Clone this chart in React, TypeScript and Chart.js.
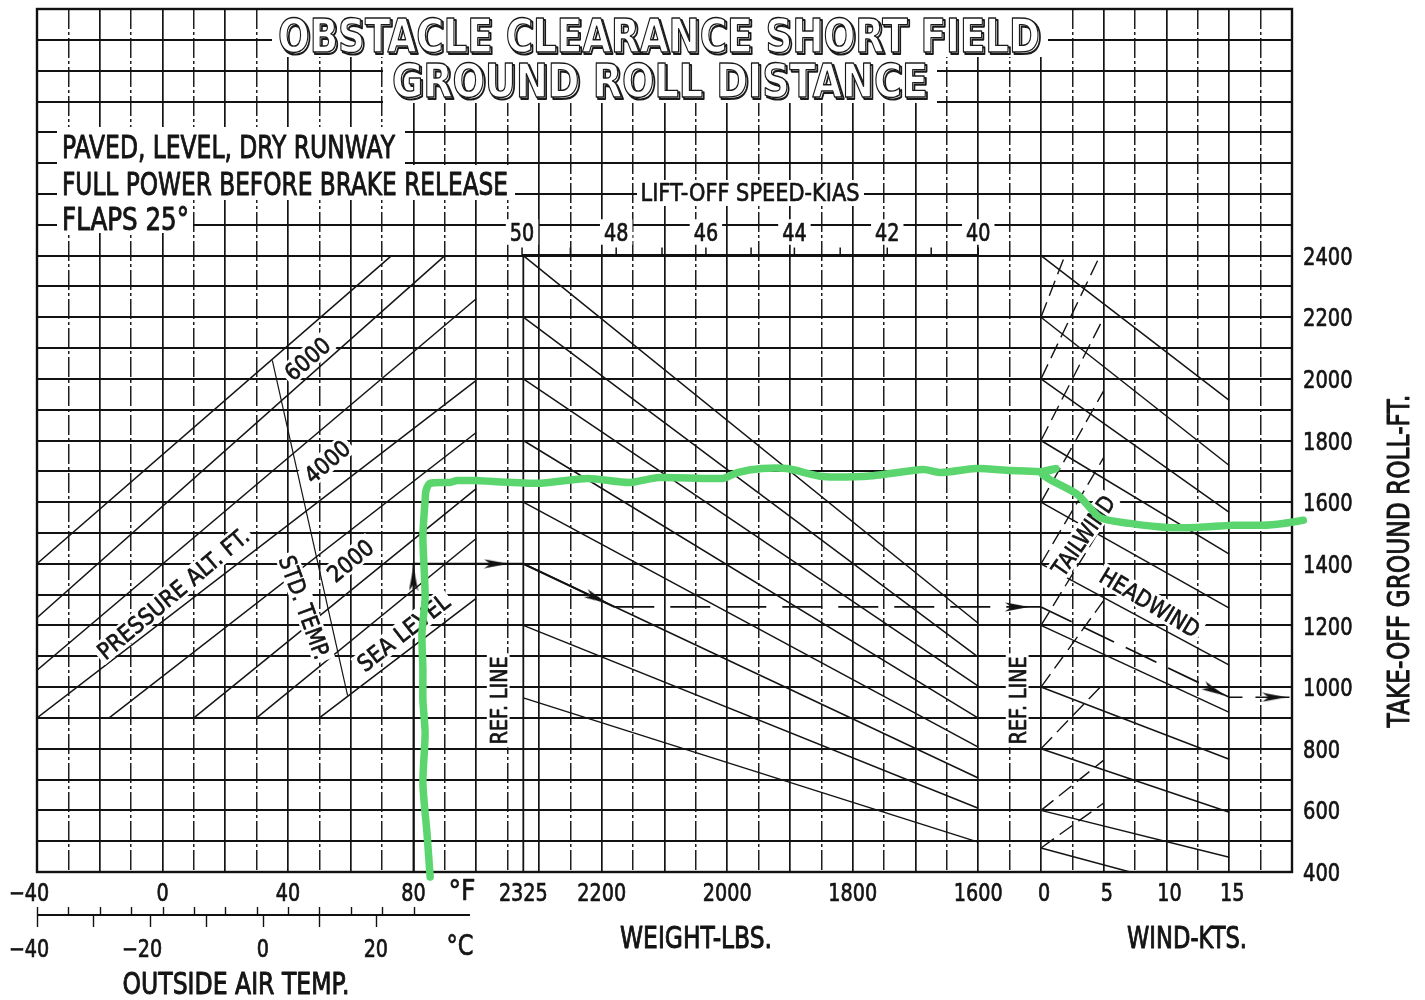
import React, { useEffect, useRef } from 'react';
import { Chart, registerables } from 'chart.js';

Chart.register(...registerables);

// ---------------- grid values ----------------
const tempGridF = [-30, -20, -10, 0, 10, 20, 30, 40, 50, 60, 70, 80, 90, 100];
const weightGridLbs = [2350, 2300, 2250, 2200, 2150, 2100, 2050, 2000, 1950, 1900, 1850, 1800, 1750, 1700, 1650, 1600, 1550];
const windGridKts = [0, 2.5, 5, 7.5, 10, 12.5, 15, 17.5];
const rollGridFt = [500, 600, 700, 800, 900, 1000, 1100, 1200, 1300, 1400, 1500, 1600, 1700, 1800, 1900, 2000,
  2100, 2200, 2300, 2400, 2500, 2600, 2700, 2800, 2900, 3000, 3100];

// ---------------- tick labels ----------------
const tempLabelsF = [-40, 0, 40, 80];
const fahrenheitTicks = [-40, -30, -20, -10, 0, 10, 20, 30, 40, 50, 60, 70, 80];
const celsiusTicks = [-40, -30, -20, -10, 0, 10, 20];
const celsiusLabels = [-40, -20, 0, 20];
const weightLabelsLbs = [2325, 2200, 2000, 1800, 1600];
const windLabelsKts = [0, 5, 10, 15];
const rollLabelsFt = [400, 600, 800, 1000, 1200, 1400, 1600, 1800, 2000, 2200, 2400];
const liftoffSpeedsKias = [50, 49, 48, 47, 46, 45, 44, 43, 42, 41, 40];
const liftoffWeightsLbs = [2327, 2250, 2177, 2104, 2034, 1962, 1893, 1820, 1745, 1675, 1600];

// ---------------- pressure altitude lines (temperature panel) ----------------
const altitudeNames = ['7000', '6000', '5000', '4000', '3000', '2000', '1000', 'SL'];
const altitudeStartF = [-40, -40, -40, -40, -17, 10, 30, 50];
const altitudeStartFt = [1400, 1225, 1055, 900, 900, 900, 900, 900];
const altitudeEndF = [73, 90, 100, 100, 100, 100, 100, 100];
const altitudeEndFt = [2400, 2400, 2260, 1995, 1826, 1644, 1482, 1288];
const stdTempF = [35, 59];
const stdTempFt = [2060, 972];

// ---------------- weight guide lines ----------------
const weightRefLbs = 2325;
const weightEndLbs = 1600;
const weightStartFt = [2400, 2200, 2000, 1800, 1600, 1400, 1200, 965];
const weightEndFt = [1207, 1097, 1003, 899, 805, 705, 607, 497];

// ---------------- wind guide lines ----------------
const headwindStartFt = [2400, 2200, 2000, 1800, 1600, 1400, 1200, 1000, 800, 600, 478];
const headwindEndKts = [15, 15, 15, 15, 15, 15, 15, 15, 15, 15, 7.1];
const headwindEndFt = [1930, 1719, 1567, 1431, 1256, 1071, 918, 766, 594, 448, 400];
const tailwindStartFt = [2200, 2000, 1800, 1600, 1400, 1200, 1000, 800, 600, 478];
const tailwindEndKts = [1.9, 4.7, 5, 5, 5, 5, 5, 5, 5, 5];
const tailwindEndFt = [2400, 2400, 2199, 1962, 1745, 1531, 1281, 1012, 763, 624];

// ---------------- example path ----------------
const exampleTempF = [80, 80, 100];
const exampleTempFt = [400, 1400, 1400];
const exampleWeightLbs = [2400, 2325, 2180];
const exampleWeightFt = [1400, 1400, 1260];
const exampleWeightDashLbs = [2180, 1500];
const exampleWeightDashFt = [1260, 1260];
const exampleWindKts = [0, 15, 20];
const exampleWindFt = [1260, 967, 967];
const arrowTempF = [80];
const arrowTempFt = [1352];
const arrowWeightLbs = [2368, 2208, 1538];
const arrowWeightFt = [1400, 1288, 1260];
const arrowWindKts = [13.8, 18.6];
const arrowWindFt = [989, 967];

// ---------------- green hand-drawn line ----------------
const greenTempF = [85.3, 84.3, 83.0, 83.7, 83.0, 83.0, 82.7, 83.7, 83.0, 83.7, 84.0, 85.3, 91.6, 93.9, 100];
const greenTempFt = [384, 526, 688, 850, 957, 1055, 1175, 1291, 1486, 1606, 1638, 1661, 1664, 1670, 1670];
const greenWeightLbs = [2400, 2303, 2223, 2155, 2109, 2007, 1984, 1945, 1905, 1847, 1768, 1688, 1659, 1604, 1549, 1500];
const greenWeightFt = [1670, 1661, 1677, 1664, 1680, 1677, 1696, 1709, 1709, 1683, 1686, 1706, 1696, 1709, 1703, 1699];
const greenWindKts = [0, 1.2, 0.1, 2.9, 4.7, 7.1, 10.0, 12.4, 15.3, 17.7, 19.3, 20.9];
const greenWindFt = [1699, 1709, 1690, 1625, 1550, 1531, 1518, 1518, 1525, 1525, 1531, 1541];

// ---------------- drawing helpers ----------------
const FONT = '"DejaVu Sans", "Liberation Sans", sans-serif';
const INK = '#141414';

function txt(ctx: any, text: string, x: number, y: number, o: any = {}) {
  const size = o.size ?? 24;
  const angle = ((o.angle ?? 0) * Math.PI) / 180;
  ctx.save();
  ctx.translate(x, y);
  ctx.rotate(angle);
  ctx.font = `${o.bold ? 'bold ' : ''}${size}px ${FONT}`;
  ctx.textAlign = 'left';
  ctx.textBaseline = 'alphabetic';
  const w = ctx.measureText(text).width;
  const sx = o.width ? o.width / w : o.sx ?? 0.8;
  const tw = w * sx;
  const cap = size * 0.73;
  const x0 = o.align === 'left' ? 0 : o.align === 'right' ? -tw : -tw / 2;
  if (o.bg) {
    const p = o.pad ?? 3;
    ctx.fillStyle = '#fff';
    ctx.fillRect(x0 - p, -cap / 2 - p, tw + 2 * p, cap + 2 * p);
  }
  ctx.scale(sx, 1);
  ctx.fillStyle = o.color ?? INK;
  ctx.fillText(text, x0 / sx, cap / 2);
  ctx.strokeStyle = o.color ?? INK;
  ctx.lineWidth = o.stroke ?? 0.7;
  ctx.lineJoin = 'round';
  ctx.strokeText(text, x0 / sx, cap / 2);
  ctx.restore();
}

function numLabel(ctx: any, v: number, x: number, y: number, size = 24) {
  const s = v < 0 ? '\u2212' + Math.abs(v) : String(v);
  let shift = 0;
  if (v < 0) {
    ctx.save();
    ctx.font = `${size}px ${FONT}`;
    shift = (ctx.measureText('\u2212').width * 0.8) / 2;
    ctx.restore();
  }
  txt(ctx, s, x - shift, y, { size, sx: 0.8 });
}

function outlined(ctx: any, text: string, cx: number, baseline: number, width: number, size: number) {
  ctx.save();
  ctx.font = `bold ${size}px ${FONT}`;
  ctx.textAlign = 'left';
  ctx.textBaseline = 'alphabetic';
  const w = ctx.measureText(text).width;
  const sx = width / w;
  ctx.translate(cx - width / 2, baseline);
  ctx.scale(sx, 1);
  ctx.lineJoin = 'round';
  ctx.strokeStyle = '#1a1a1a';
  ctx.lineWidth = 2.2;
  ctx.strokeText(text, 1.8 / sx, 1.8);
  ctx.fillStyle = '#fff';
  ctx.fillText(text, 0, 0);
  ctx.lineWidth = 1.4;
  ctx.strokeText(text, 0, 0);
  ctx.restore();
}

function makeArrow() {
  const c = document.createElement('canvas');
  c.width = 10;
  c.height = 24;
  const g = c.getContext('2d')!;
  g.fillStyle = '#111';
  g.beginPath();
  g.moveTo(5, 0);
  g.lineTo(9.5, 24);
  g.lineTo(5, 18);
  g.lineTo(0.5, 24);
  g.closePath();
  g.fill();
  return c;
}

const HEADER_BOXES = [
  [272, 9, 1048, 57],
  [383, 57, 937, 103],
  [57, 127, 405, 165],
  [57, 165, 515, 200],
  [57, 200, 193, 233],
  [637, 180, 864, 206],
];

const LINE_LABELS = [
  { t: '6000', s: 'xT', x: 46.1, y: 2066, a: -41, w: 52 },
  { t: '4000', s: 'xT', x: 52.4, y: 1732, a: -41, w: 52 },
  { t: '2000', s: 'xT', x: 59.8, y: 1411, a: -40, w: 52 },
  { t: 'SEA LEVEL', s: 'xT', x: 76.7, y: 1178, a: -38, w: 110 },
  { t: 'PRESSURE ALT. FT.', s: 'xT', x: 3.3, y: 1304, a: -40, w: 190 },
  { t: 'STD. TEMP.', s: 'xT', x: 45.4, y: 1259, a: 70, w: 108 },
  { t: 'REF. LINE', s: 'xW', x: 2365, y: 957, a: -90, w: 88 },
  { t: 'REF. LINE', s: 'xK', x: -1.9, y: 957, a: -90, w: 88 },
  { t: 'TAILWIND', s: 'xK', x: 3.35, y: 1492, a: -55, w: 92 },
  { t: 'HEADWIND', s: 'xK', x: 8.7, y: 1275, a: 31, w: 112 },
];

const decoPlugin = {
  id: 'deco',
  beforeDraw(chart: any) {
    chart.$lbl = false;
  },
  beforeDatasetsDraw(chart: any) {
    const { ctx, chartArea: ca } = chart;
    const xW = chart.scales.xW;
    ctx.save();
    ctx.fillStyle = '#fff';
    for (const [x1, y1, x2, y2] of HEADER_BOXES) ctx.fillRect(x1, y1, x2 - x1, y2 - y1);
    outlined(ctx, 'OBSTACLE CLEARANCE SHORT FIELD', 659, 52, 762, 47);
    outlined(ctx, 'GROUND ROLL DISTANCE', 660, 97, 536, 47);
    txt(ctx, 'PAVED, LEVEL, DRY RUNWAY', 62, 146, { size: 32, width: 333, align: 'left', stroke: 1 });
    txt(ctx, 'FULL POWER BEFORE BRAKE RELEASE', 62, 183, { size: 32, width: 446, align: 'left', stroke: 1 });
    txt(ctx, 'FLAPS 25\u00B0', 62, 218, { size: 32, width: 127, align: 'left', stroke: 1 });
    txt(ctx, 'LIFT-OFF SPEED-KIAS', 750, 192, { size: 25, width: 219 });
    liftoffSpeedsKias.forEach((s, i) => {
      if (s % 2 === 0) {
        txt(ctx, String(s), xW.getPixelForValue(liftoffWeightsLbs[i]), 232, { size: 24, sx: 0.8, bg: true, pad: 4 });
      }
    });
    ctx.lineWidth = 2.4;
    ctx.strokeStyle = '#111';
    ctx.strokeRect(ca.left, ca.top, ca.right - ca.left, ca.bottom - ca.top);
    ctx.restore();
  },
  beforeDatasetDraw(chart: any, args: any) {
    const ds = chart.data.datasets[args.index];
    if (chart.$lbl || !ds.isGreen) return;
    chart.$lbl = true;
    const { ctx } = chart;
    const y = chart.scales.y;
    for (const l of LINE_LABELS) {
      const px = chart.scales[l.s].getPixelForValue(l.x);
      const py = y.getPixelForValue(l.y);
      txt(ctx, l.t, px, py, { size: 23, width: l.w, angle: l.a, bg: true, pad: 3 });
    }
  },
  afterDraw(chart: any) {
    const { ctx, chartArea: ca } = chart;
    const xT = chart.scales.xT;
    const xW = chart.scales.xW;
    const xK = chart.scales.xK;
    const y = chart.scales.y;
    const row1 = ca.bottom + 20;
    tempLabelsF.forEach((v) => numLabel(ctx, v, xT.getPixelForValue(v), row1));
    txt(ctx, '\u00B0F', 462, row1 - 2, { size: 28, width: 27 });
    weightLabelsLbs.forEach((v) => numLabel(ctx, v, xW.getPixelForValue(v), row1));
    windLabelsKts.forEach((v) => numLabel(ctx, v, xK.getPixelForValue(v) + 3, row1));
    const yb = ca.bottom + 43;
    ctx.save();
    ctx.strokeStyle = '#111';
    ctx.lineWidth = 1.8;
    ctx.beginPath();
    ctx.moveTo(xT.getPixelForValue(-40), yb);
    ctx.lineTo(xT.getPixelForValue(98), yb);
    ctx.stroke();
    ctx.lineWidth = 1.4;
    fahrenheitTicks.forEach((f) => {
      const px = Math.round(xT.getPixelForValue(f)) + 0.5;
      ctx.beginPath();
      ctx.moveTo(px, yb - 8);
      ctx.lineTo(px, yb);
      ctx.stroke();
    });
    celsiusTicks.forEach((c) => {
      const px = Math.round(xT.getPixelForValue(c * 1.8 + 32)) + 0.5;
      ctx.beginPath();
      ctx.moveTo(px, yb);
      ctx.lineTo(px, yb + 12);
      ctx.stroke();
    });
    ctx.restore();
    celsiusLabels.forEach((c) => numLabel(ctx, c, xT.getPixelForValue(c * 1.8 + 32), ca.bottom + 76));
    txt(ctx, '\u00B0C', 460, ca.bottom + 73, { size: 28, width: 27 });
    txt(ctx, 'OUTSIDE AIR TEMP.', 236, ca.bottom + 111, { size: 30, width: 227, stroke: 1 });
    txt(ctx, 'WEIGHT-LBS.', 696, ca.bottom + 65, { size: 30, width: 152, stroke: 1 });
    txt(ctx, 'WIND-KTS.', 1187, ca.bottom + 65, { size: 30, width: 120, stroke: 1 });
    rollLabelsFt.forEach((v) => txt(ctx, String(v), ca.right + 11, y.getPixelForValue(v), { size: 25, sx: 0.78, align: 'left' }));
    txt(ctx, 'TAKE-OFF GROUND ROLL-FT.', 1398, 561, { size: 30, width: 333, angle: -90, stroke: 1 });
  },
};

// ---------------- datasets ----------------
const LINE_INK = '#141414';
const seg = (axis: string, xs: number[], ys: number[], style: any = {}) => ({
  xAxisID: axis,
  yAxisID: 'y',
  data: xs.map((x, i) => ({ x, y: ys[i] })),
  showLine: true,
  pointRadius: 0,
  borderColor: LINE_INK,
  borderWidth: 1.5,
  fill: false,
  tension: 0,
  ...style,
});

const pts = (axis: string, xs: number[], ys: number[], style: any = {}) => ({
  xAxisID: axis,
  yAxisID: 'y',
  data: xs.map((x, i) => ({ x, y: ys[i] })),
  showLine: false,
  ...style,
});

function buildDatasets(arrow: HTMLCanvasElement) {
  const ds: any[] = [];
  altitudeNames.forEach((_, i) =>
    ds.push(seg('xT', [altitudeStartF[i], altitudeEndF[i]], [altitudeStartFt[i], altitudeEndFt[i]])));
  ds.push(seg('xT', stdTempF, stdTempFt, { borderWidth: 1.2 }));
  ds.push(seg('xW', [weightRefLbs, weightRefLbs], [400, 2400], { borderWidth: 1.8 }));
  ds.push(seg('xW', [liftoffWeightsLbs[0], liftoffWeightsLbs[liftoffWeightsLbs.length - 1]], [2400, 2400], { borderWidth: 3, borderColor: '#111' }));
  ds.push(pts('xW', liftoffWeightsLbs, liftoffWeightsLbs.map(() => 2413), {
    pointStyle: 'line', pointRotation: 90, pointRadius: 4, pointBorderWidth: 1.5, pointBorderColor: '#111',
  }));
  weightStartFt.forEach((s, i) => ds.push(seg('xW', [weightRefLbs, weightEndLbs], [s, weightEndFt[i]])));
  headwindStartFt.forEach((s, i) => ds.push(seg('xK', [0, headwindEndKts[i]], [s, headwindEndFt[i]])));
  tailwindStartFt.forEach((s, i) =>
    ds.push(seg('xK', [0, tailwindEndKts[i]], [s, tailwindEndFt[i]], { borderDash: [16, 7], borderWidth: 1.4 })));
  ds.push(seg('xT', exampleTempF, exampleTempFt, { borderWidth: 1.9, borderColor: '#111' }));
  ds.push(seg('xW', exampleWeightLbs, exampleWeightFt, { borderWidth: 1.9, borderColor: '#111' }));
  ds.push(seg('xW', exampleWeightDashLbs, exampleWeightDashFt, { borderWidth: 1.7, borderColor: '#111', borderDash: [40, 16] }));
  ds.push(seg('xK', exampleWindKts, exampleWindFt, { borderWidth: 1.7, borderColor: '#111', borderDash: [34, 13] }));
  ds.push(pts('xT', arrowTempF, arrowTempFt, { pointStyle: arrow, pointRadius: 8, pointRotation: [0] }));
  ds.push(pts('xW', arrowWeightLbs, arrowWeightFt, { pointStyle: arrow, pointRadius: 8, pointRotation: [90, 115, 90] }));
  ds.push(pts('xK', arrowWindKts, arrowWindFt, { pointStyle: arrow, pointRadius: 8, pointRotation: [115.6, 90] }));
  const green = { borderColor: '#5bd56e', borderWidth: 7.5, borderCapStyle: 'round', borderJoinStyle: 'round', tension: 0.25, clip: false, order: -1, isGreen: true };
  ds.push(seg('xT', greenTempF, greenTempFt, green));
  ds.push(seg('xW', greenWeightLbs, greenWeightFt, green));
  ds.push(seg('xK', greenWindKts, greenWindFt, green));
  return ds;
}

const gridScale = (min: number, max: number, values: number[], isSolid: (v: number) => boolean, reverse = false) => ({
  type: 'linear',
  position: 'bottom',
  min,
  max,
  reverse,
  afterBuildTicks: (a: any) => {
    a.ticks = values.map((v) => ({ value: v }));
  },
  afterFit: (s: any) => {
    s.height = 0;
  },
  ticks: { display: false },
  grid: {
    drawTicks: false,
    color: (c: any) => (c.tick && isSolid(c.tick.value) ? '#141414' : '#1e1e1e'),
    lineWidth: (c: any) => (c.tick && isSolid(c.tick.value) ? 1.7 : 1.5),
  },
  border: {
    display: false,
    dash: (c: any) => (c.tick && isSolid(c.tick.value) ? [] : [20, 3, 3, 3]),
  },
});

export default function App() {
  const ref = useRef<HTMLCanvasElement>(null);
  useEffect(() => {
    document.body.style.margin = '0';
    const canvas = ref.current!;
    const arrow = makeArrow();
    const chart = new Chart(canvas, {
      type: 'scatter',
      data: { datasets: buildDatasets(arrow) },
      options: {
        responsive: false,
        animation: false,
        devicePixelRatio: 1,
        events: [],
        layout: { padding: { left: 37, right: 133, top: 8, bottom: 128 } },
        plugins: { legend: { display: false }, tooltip: { enabled: false } },
        elements: { point: { radius: 0 } },
        scales: {
          xT: gridScale(-40, 360, tempGridF, (v) => v % 20 === 0),
          xW: gridScale(1100, 3100, weightGridLbs, (v) => v % 100 === 0, true),
          xK: gridScale(-80, 20, windGridKts, (v) => v % 5 === 0),
          y: {
            type: 'linear',
            position: 'right',
            min: 400,
            max: 3200,
            afterBuildTicks: (a: any) => {
              a.ticks = rollGridFt.map((v) => ({ value: v }));
            },
            afterFit: (s: any) => {
              s.width = 0;
            },
            ticks: { display: false },
            grid: { drawTicks: false, color: '#121212', lineWidth: 1.9 },
            border: { display: false },
          },
        },
      } as any,
      plugins: [decoPlugin as any],
    });
    return () => chart.destroy();
  }, []);
  return (
    <div style={{ width: 1425, height: 1000, background: '#fff' }}>
      <canvas ref={ref} width={1425} height={1000} style={{ display: 'block', width: 1425, height: 1000 }} />
    </div>
  );
}
